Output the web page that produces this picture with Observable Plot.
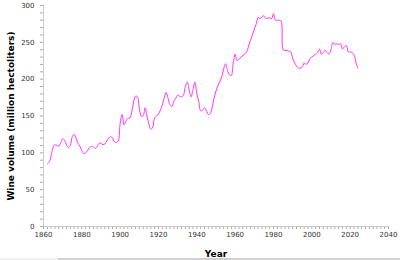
<!DOCTYPE html>
<html>
<head>
<meta charset="utf-8">
<script src="https://cdn.jsdelivr.net/npm/d3@7"></script>
<script src="https://cdn.jsdelivr.net/npm/@observablehq/plot@0.6"></script>
<style>
  html, body { margin: 0; padding: 0; background: #fff; overflow: hidden; }
  #chart { position: relative; width: 400px; height: 260px; }
  #chart svg { font-family: "DejaVu Sans", Verdana, sans-serif; }
  #chart svg [aria-label="x-axis label"], #chart svg [aria-label="y-axis label"] { font-weight: bold; font-size: 9px; fill: #000; }
  .sb-left { position: absolute; left: 0; top: 258px; width: 58px; height: 2px; background: #f0f0f0; }
  .sb-right { position: absolute; left: 58px; top: 258px; width: 342px; height: 2px; background: #d0d0d0; }
</style>
</head>
<body>
<div id="chart"></div>
<script>
const firstYear = 1862;
const volumes = [
  85, 88, 96, 107, 111, 110, 109, 114, 119, 117,
  111, 107, 110, 122, 125, 120, 113, 109, 103, 99,
  100, 103, 107, 109, 108, 106, 109, 113, 113, 111,
  112, 116, 120, 122, 120, 115, 114, 116, 140, 152,
  138, 143, 147, 147, 155, 169, 177, 176, 160, 150,
  150, 161, 150, 139, 132, 135, 148, 150, 153, 158,
  165, 175, 182, 174, 165, 163, 170, 174, 178, 177,
  176, 178, 190, 196, 185, 176, 186, 196, 180, 170,
  157, 158, 161, 157, 152, 153, 162, 174, 184, 191,
  197, 203, 214, 221, 212, 206, 205, 222, 234, 225,
  227, 230, 232, 234, 237, 245, 253, 260, 268, 275,
  284, 282, 285, 286, 282, 283, 283, 282, 289, 280,
  280, 280, 279, 240, 239, 239, 238, 237, 228, 222,
  218, 215, 215, 216, 222, 220, 222, 228, 230, 232,
  234, 236, 241, 234, 236, 239, 236, 234, 240, 250,
  247, 248, 247, 248, 241, 244, 246, 237, 237, 236,
  233, 223, 215
];
const xLabelTicks = [1860, 1880, 1900, 1920, 1940, 1960, 1980, 2000, 2020, 2040];
const yLabelTicks = [0, 50, 100, 150, 200, 250, 300];
const xMinorStep = 2;
const yMinorStep = 10;
const xTitle = "Year";
const yTitle = "Wine volume (million hectoliters)";

const data = volumes.map((v, i) => ({year: firstYear + i, volume: v}));
const xMinor = d3.range(1860, 2041, xMinorStep);
const yMinor = d3.range(0, 301, yMinorStep);

const chart = Plot.plot({
  width: 400,
  height: 260,
  marginLeft: 43,
  marginRight: 12,
  marginTop: 5,
  marginBottom: 34,
  style: {fontSize: "7px", color: "#333", background: "#fff"},
  x: {domain: [1860, 2040]},
  y: {domain: [0, 300]},
  marks: [
    Plot.axisX(xMinor, {tickSize: 3, tickFormat: () => "", stroke: "#aaa", label: null}),
    Plot.axisX(xLabelTicks, {tickSize: 0, tickPadding: 6, tickFormat: d => String(d), fill: "#333", label: xTitle, labelAnchor: "center", labelArrow: "none", labelOffset: 30}),
    Plot.axisY(yMinor, {tickSize: 3, tickFormat: () => "", stroke: "#aaa", label: null}),
    Plot.axisY(yLabelTicks, {tickSize: 0, tickPadding: 9, fill: "#333", label: yTitle, labelAnchor: "center", labelArrow: "none", labelOffset: 36}),
    Plot.ruleX([1860], {stroke: "#ccc"}),
    Plot.ruleY([0], {stroke: "#ccc"}),
    Plot.line(data, {x: "year", y: "volume", stroke: "#ff33ff", strokeWidth: 1, curve: "catmull-rom"})
  ]
});
const root = document.getElementById("chart");
root.appendChild(chart);
const l = document.createElement("div"); l.className = "sb-left"; root.appendChild(l);
const r = document.createElement("div"); r.className = "sb-right"; root.appendChild(r);
</script>
</body>
</html>
